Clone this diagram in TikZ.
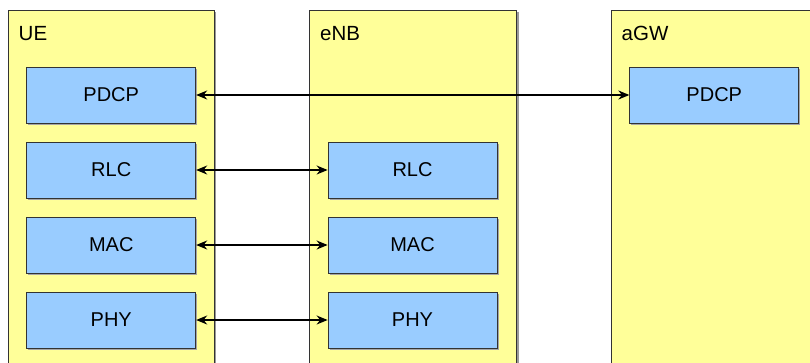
\documentclass[tikz,border=0pt]{standalone}
\usepackage{fontspec}
\setmainfont{Liberation Sans}
\usetikzlibrary{arrows.meta}
\definecolor{colyellow}{HTML}{FFFF99}
\definecolor{boxblue}{HTML}{99CCFF}
\definecolor{edgegray}{HTML}{333333}
\begin{document}
\begin{tikzpicture}[x=1pt,y=-1pt,
  column/.style={fill=colyellow,draw=edgegray,line width=0.9pt},
  colshadow/.style={fill=gray!80,draw=none},
  layerbox/.style={fill=boxblue,draw=edgegray,line width=0.8pt,minimum width=169pt,minimum height=56pt,inner sep=0pt,font=\fontsize{20}{24}\selectfont},
  boxshadow/.style={fill=gray!70,draw=none},
  collabel/.style={anchor=base west,inner sep=0pt,font=\fontsize{20.5}{24}\selectfont},
  link/.style={{Stealth[length=11pt,width=9pt]}-{Stealth[length=11pt,width=9pt]},line width=1.5pt,black}
]
\useasboundingbox (0,0) rectangle (810,362);
\clip (0,0) rectangle (810,362);
\fill[white] (0,0) rectangle (810,362);
% columns
\fill[colshadow] (10,12) rectangle (216,380);
\draw[column] (8,10) rectangle (214,380);
\fill[colshadow] (311,12) rectangle (518.5,380);
\draw[column] (309,10) rectangle (516.5,380);
\draw[column] (611,10) rectangle (830,380);
\node[collabel] (ue) at (18.5,40) {UE};
\node[collabel] (enb) at (320,40) {eNB};
\node[collabel] (agw) at (621.5,40) {aGW};
% boxes with shadows
\foreach \cx/\cy in {111.25/95, 111.25/170, 111.25/245, 111.25/320, 412.5/170, 412.5/245, 412.5/320, 714.25/95}{
  \fill[boxshadow] (\cx-84.5+1.5,\cy-28+1.5) rectangle (\cx+84.5+1.5,\cy+28+1.5);
}
\node[layerbox] (uepdcp) at (111.25,95) {PDCP};
\node[layerbox] (uerlc) at (111.25,170) {RLC};
\node[layerbox] (uemac) at (111.25,245) {MAC};
\node[layerbox] (uephy) at (111.25,320) {PHY};
\node[layerbox] (enbrlc) at (412.5,170) {RLC};
\node[layerbox] (enbmac) at (412.5,245) {MAC};
\node[layerbox] (enbphy) at (412.5,320) {PHY};
\node[layerbox] (agwpdcp) at (714.25,95) {PDCP};
% links
\draw[link] (uepdcp.east) -- (agwpdcp.west);
\draw[link] (uerlc.east) -- (enbrlc.west);
\draw[link] (uemac.east) -- (enbmac.west);
\draw[link] (uephy.east) -- (enbphy.west);
\end{tikzpicture}
\end{document}
